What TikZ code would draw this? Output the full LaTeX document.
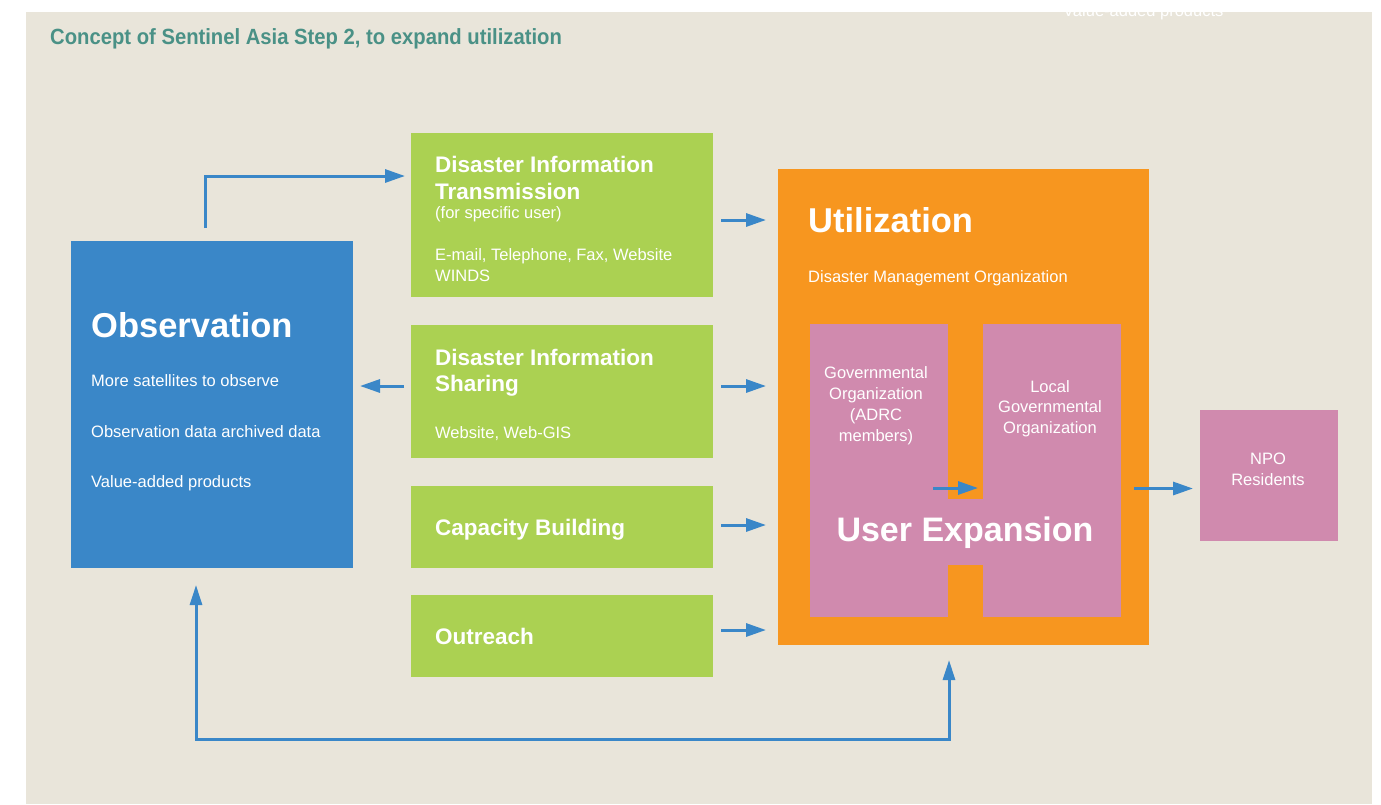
\documentclass[tikz,border=0pt]{standalone}
\usepackage{fontspec}
\setmainfont{Liberation Sans}
\newfontfamily\condfont{Liberation Sans}[FakeStretch=0.92]
\usetikzlibrary{arrows.meta,calc}
\definecolor{bgbeige}{HTML}{E9E5DA}
\definecolor{obsblue}{HTML}{3A87C8}
\definecolor{boxgreen}{HTML}{ABD152}
\definecolor{utilorange}{HTML}{F7961F}
\definecolor{userpink}{HTML}{D08AAE}
\definecolor{titleteal}{HTML}{4A9186}
\definecolor{arrowblue}{HTML}{3A87C8}
\tikzset{
  box/.style={anchor=north west, inner sep=0pt, outer sep=0pt, draw=none},
  txt/.style={anchor=base west, inner sep=0pt, text=white, font=\fontsize{16.5pt}{21pt}\selectfont},
  ctxt/.style={anchor=base, inner sep=0pt, text=white, font=\fontsize{16.5pt}{21pt}\selectfont},
  head/.style={anchor=base west, inner sep=0pt, text=white, font=\bfseries\fontsize{22.5pt}{27pt}\selectfont},
  bighead/.style={anchor=base west, inner sep=0pt, text=white, font=\bfseries\fontsize{34.5pt}{40pt}\selectfont},
  arr/.style={draw=arrowblue, line width=3pt, -{Triangle[length=20pt,width=13pt]}},
  arrboth/.style={draw=arrowblue, line width=3pt, {Triangle[length=20pt,width=12pt]}-{Triangle[length=20pt,width=12pt]}}
}
\begin{document}
\begin{tikzpicture}[x=1pt,y=-1pt]
\useasboundingbox (0,0) rectangle (1381,804);
\fill[white] (0,0) rectangle (1381,804);
\fill[bgbeige] (26,12) rectangle (1372,804);

% stray white text at the top edge
\node[txt] (stray) at (1063,16) {Value-added products};

% title
\node[anchor=base west, inner sep=0pt, text=titleteal, font=\condfont\bfseries\fontsize{22pt}{26pt}\selectfont] (title) at (50,44) {Concept of Sentinel Asia Step 2, to expand utilization};

% boxes
\node[box, fill=obsblue, minimum width=282pt, minimum height=327pt] (obs) at (71,241) {};
\node[box, fill=boxgreen, minimum width=302pt, minimum height=164pt] (g1) at (411,133) {};
\node[box, fill=boxgreen, minimum width=302pt, minimum height=133pt] (g2) at (411,325) {};
\node[box, fill=boxgreen, minimum width=302pt, minimum height=82pt] (g3) at (411,486) {};
\node[box, fill=boxgreen, minimum width=302pt, minimum height=82pt] (g4) at (411,595) {};
\node[box, fill=utilorange, minimum width=371pt, minimum height=476pt] (util) at (778,169) {};
\node[box, fill=userpink, minimum width=138pt, minimum height=293pt] (gov) at (810,324) {};
\node[box, fill=userpink, minimum width=138pt, minimum height=293pt] (local) at (983,324) {};
\node[box, fill=userpink, minimum width=36pt, minimum height=66pt] (bridge) at (947.5,499) {};
\node[box, fill=userpink, minimum width=138pt, minimum height=131pt] (npo) at (1200,410) {};

% observation texts
\node[bighead] (obsT) at (91,337) {Observation};
\node[txt] (obs1) at (91,386) {More satellites to observe};
\node[txt] (obs2) at (91,437) {Observation data archived data};
\node[txt] (obs3) at (91,487) {Value-added products};

% green box texts
\node[head] (g1a) at (435,172) {Disaster Information};
\node[head] (g1b) at (435,199) {Transmission};
\node[txt] (g1c) at (435,218) {(for specific user)};
\node[txt] (g1d) at (435,260) {E-mail, Telephone, Fax, Website};
\node[txt] (g1e) at (435,281) {WINDS};
\node[head] (g2a) at (435,365) {Disaster Information};
\node[head] (g2b) at (435,391) {Sharing};
\node[txt] (g2c) at (435,438) {Website, Web-GIS};
\node[head] (g3a) at (435,535) {Capacity Building};
\node[head] (g4a) at (435,644) {Outreach};

% utilization texts
\node[bighead] (utT) at (808,232) {Utilization};
\node[txt] (ut1) at (808,282) {Disaster Management Organization};
\node[ctxt] (gv1) at (876,378) {Governmental};
\node[ctxt] (gv2) at (876,399) {Organization};
\node[ctxt] (gv3) at (876,420) {(ADRC};
\node[ctxt] (gv4) at (876,441) {members)};
\node[ctxt] (lc1) at (1050,392) {Local};
\node[ctxt] (lc2) at (1050,412) {Governmental};
\node[ctxt] (lc3) at (1050,433) {Organization};
\node[anchor=base, inner sep=0pt, text=white, font=\bfseries\fontsize{34pt}{40pt}\selectfont] (ue) at (965,541) {User Expansion};
\node[ctxt] (np1) at (1268,464) {NPO};
\node[ctxt] (np2) at (1268,485) {Residents};

% connectors
\draw[arr] ($(obs.north)+(-7,-13)$) |- ($(g1.west)+(-6,-39)$);
\draw[arr] ([xshift=8pt,yshift=-5pt]g1.east) coordinate (a1) -- ($(a1 -| util.west)+(-12,0)$);
\draw[arr] ([xshift=-7pt,yshift=5.5pt]g2.west) coordinate (a2) -- ($(a2 -| obs.east)+(7,0)$);
\draw[arr] ([xshift=8pt,yshift=5.5pt]g2.east) coordinate (a3) -- ($(a3 -| util.west)+(-12,0)$);
\draw[arr] ([xshift=8pt,yshift=2pt]g3.east) coordinate (a4) -- ($(a4 -| util.west)+(-12,0)$);
\draw[arr] ([xshift=8pt,yshift=6pt]g4.east) coordinate (a5) -- ($(a5 -| util.west)+(-12,0)$);
\draw[arr] ($(gov.east)+(-15,17.5)$) coordinate (a6) -- ($(a6 -| local.west)+(-5,0)$);
\draw[arr] ($(util.east)+(-15,81.5)$) coordinate (a7) -- ($(a7 -| npo.west)+(-7,0)$);
\draw[arrboth] ($(obs.south)+(-16,17)$) -- ($(obs.south)+(-16,171)$) -| ($(util.south)+(-14.5,15)$);
\end{tikzpicture}
\end{document}
